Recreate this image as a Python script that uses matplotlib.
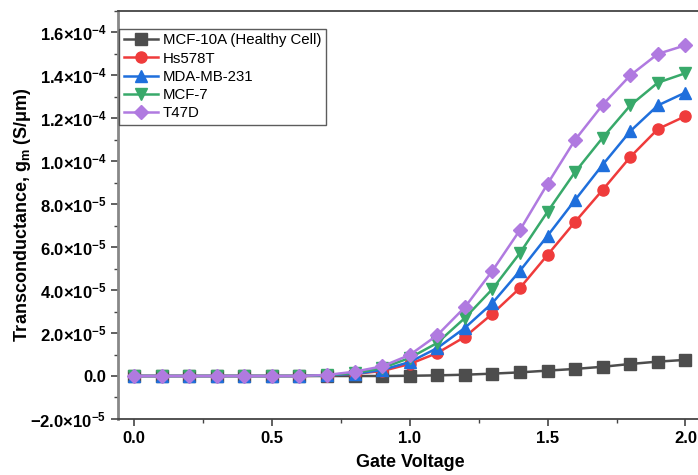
import matplotlib
matplotlib.use("Agg")
import matplotlib.pyplot as plt
from matplotlib.ticker import FixedLocator, FuncFormatter, MultipleLocator

plt.rcParams['font.family'] = ['Liberation Sans', 'DejaVu Sans']
plt.rcParams['mathtext.fontset'] = 'custom'
plt.rcParams['mathtext.rm'] = 'Liberation Sans:bold'
plt.rcParams['mathtext.bf'] = 'Liberation Sans:bold'
plt.rcParams['mathtext.it'] = 'Liberation Sans:bold'

voltage = [0.0, 0.1, 0.2, 0.3, 0.4, 0.5, 0.6, 0.7, 0.8, 0.9, 1.0,
           1.1, 1.2, 1.3, 1.4, 1.5, 1.6, 1.7, 1.8, 1.9, 2.0]

# values in units of 1e-4 S/um
mcf10a = [0, 0, 0, 0, 0, 0, 0, 0, 0, 0.0, 0.001,
          0.003, 0.006, 0.011, 0.017, 0.025, 0.033, 0.043, 0.056, 0.067, 0.075]
hs578t = [0, 0, 0, 0, 0, 0, 0, 0.002, 0.010, 0.023, 0.056,
          0.107, 0.182, 0.290, 0.410, 0.564, 0.718, 0.867, 1.020, 1.150, 1.210]
mdamb231 = [0, 0, 0, 0, 0, 0, 0, 0.003, 0.010, 0.028, 0.065,
            0.130, 0.224, 0.340, 0.490, 0.653, 0.820, 0.984, 1.140, 1.260, 1.320]
mcf7 = [0, 0, 0, 0, 0, 0, 0, 0.004, 0.014, 0.037, 0.084,
        0.154, 0.270, 0.405, 0.573, 0.765, 0.950, 1.110, 1.260, 1.366, 1.410]
t47d = [0, 0, 0, 0, 0, 0, 0, 0.005, 0.020, 0.045, 0.098,
        0.190, 0.320, 0.490, 0.680, 0.895, 1.100, 1.263, 1.400, 1.500, 1.540]

series = [
    ("MCF-10A (Healthy Cell)", mcf10a, "#4d4d4d", "s"),
    ("Hs578T", hs578t, "#ef3b3b", "o"),
    ("MDA-MB-231", mdamb231, "#1f6fdc", "^"),
    ("MCF-7", mcf7, "#38a96a", "v"),
    ("T47D", t47d, "#b07ae0", "D"),
]

fig = plt.figure(figsize=(6.98, 4.75), dpi=100)
ax = fig.add_axes([0.169, 0.118, 0.8375, 0.859])

for name, vals, col, mk in series:
    ax.plot(voltage, [v * 1e-4 for v in vals], color=col, marker=mk, lw=1.8,
            markersize=8 if mk != "D" else 7, label=name, clip_on=False)

ax.set_xlim(-0.058, 2.062)
ax.set_ylim(-2e-5, 1.7e-4)

ax.xaxis.set_major_locator(FixedLocator([0.0, 0.5, 1.0, 1.5, 2.0]))
ax.xaxis.set_minor_locator(MultipleLocator(0.25))
ax.xaxis.set_major_formatter(FuncFormatter(lambda v, p: f"{v:.1f}"))

yt = [-2e-5, 0, 2e-5, 4e-5, 6e-5, 8e-5, 1e-4, 1.2e-4, 1.4e-4, 1.6e-4]
ylabels = [r"$\mathbf{-2.0{\times}10^{-5}}$", "0.0",
           r"$\mathbf{2.0{\times}10^{-5}}$", r"$\mathbf{4.0{\times}10^{-5}}$",
           r"$\mathbf{6.0{\times}10^{-5}}$", r"$\mathbf{8.0{\times}10^{-5}}$",
           r"$\mathbf{1.0{\times}10^{-4}}$", r"$\mathbf{1.2{\times}10^{-4}}$",
           r"$\mathbf{1.4{\times}10^{-4}}$", r"$\mathbf{1.6{\times}10^{-4}}$"]
ax.set_yticks(yt)
ax.set_yticklabels(ylabels)
ax.yaxis.set_minor_locator(MultipleLocator(1e-5))

ax.tick_params(axis='both', which='major', direction='out', length=5, width=1.2,
               labelsize=12, color='#444444')
ax.tick_params(axis='both', which='minor', direction='out', length=3, width=1.0, color='#444444')
for lab in ax.get_xticklabels() + ax.get_yticklabels():
    lab.set_fontweight('bold')

for s in ax.spines.values():
    s.set_color('#444444')
    s.set_linewidth(1.3)
ax.spines['left'].set_color('#888888')
ax.spines['left'].set_linewidth(2.0)

ax.set_xlabel("Gate Voltage", fontsize=13, fontweight='bold', labelpad=6)
ax.set_ylabel(r"Transconductance, g$_\mathbf{m}$ (S/$\mathbf{\mu}$m)", fontsize=13,
              fontweight='bold', labelpad=3)
ax.yaxis.set_label_coords(-0.146, 0.5)

leg = ax.legend(loc='upper left', bbox_to_anchor=(0.002, 0.956), fontsize=10.8,
                frameon=True, fancybox=False, edgecolor='#333333',
                borderpad=0.3, labelspacing=0.28, handlelength=2.3,
                handletextpad=0.3, borderaxespad=0.0)
leg.get_frame().set_linewidth(1.0)

fig.savefig("out.png", dpi=100)
